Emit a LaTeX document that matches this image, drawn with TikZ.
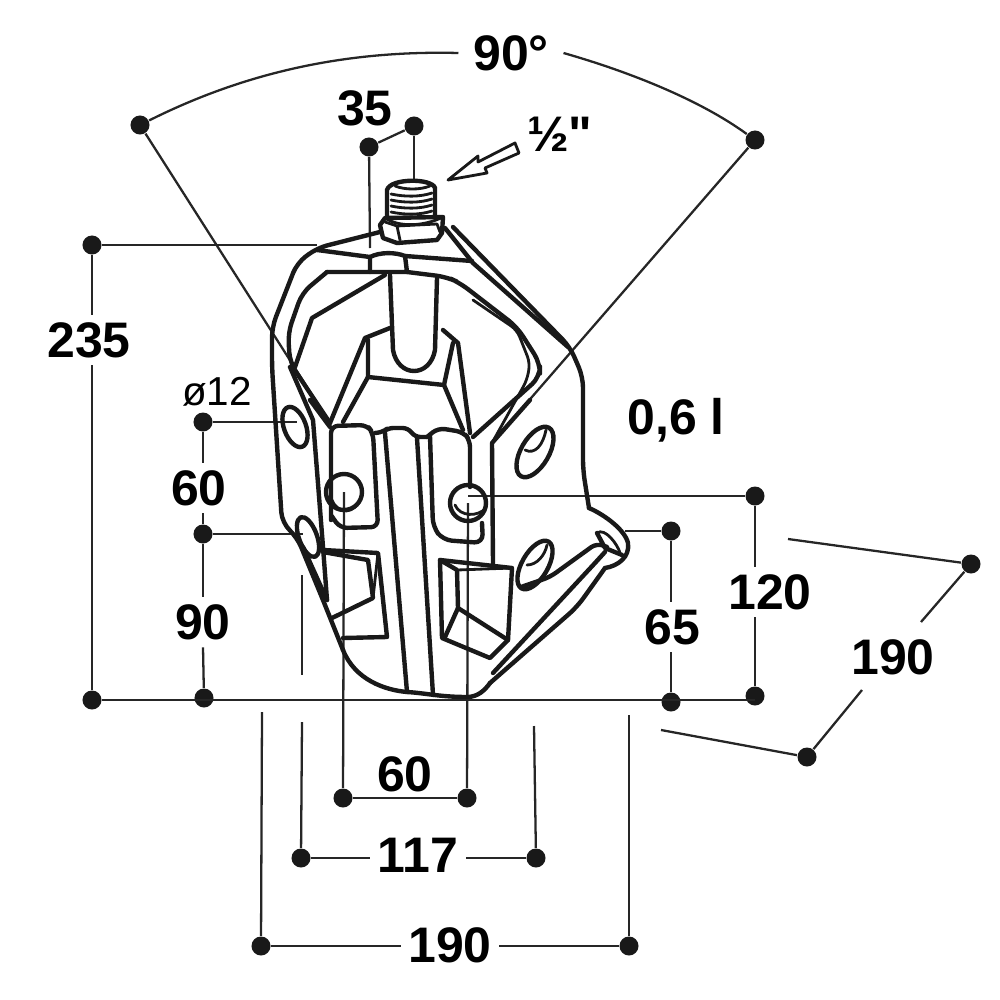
\documentclass[tikz,border=0pt]{standalone}
\usepackage{fontspec}
\setmainfont{Liberation Sans}
\tikzset{
  dot/.style={circle, fill=black!90, inner sep=0pt, minimum size=0.19cm},
  dimline/.style={black!85, line width=0.65pt},
  body/.style={black!90, line width=1.25pt, line join=round, line cap=round},
  thinbody/.style={black!90, line width=0.8pt, line join=round, line cap=round},
  biglabel/.style={font=\fontsize{14.2}{16}\selectfont\bfseries, inner sep=2pt},
  smalllabel/.style={font=\fontsize{11.5}{13}\selectfont, inner sep=1pt},
}
\begin{document}
\begin{tikzpicture}[x=0.01cm, y=-0.01cm]
  \useasboundingbox (0,0) rectangle (1000,1000);

  % labels
  \node[biglabel, inner sep=4pt] (lab90) at (511,53) {90°};
  \node[biglabel] (lab35) at (365,108) {35};
  \node[biglabel] (labthread) at (560,134) {½\XeTeXglyph\XeTeXcharglyph"0022 };
  \node[biglabel] (lab235) at (89,340) {235};
  \node[smalllabel] (labhole) at (217,392) {ø12};
  \node[biglabel] (labvol) at (676,420) {0,6 l};
  \node[biglabel] (lab60a) at (199,488) {60};
  \node[biglabel] (lab90b) at (203,622) {90};
  \node[biglabel] (lab65) at (672,627) {65};
  \node[biglabel] (lab120) at (770,592) {120};
  \node[biglabel] (lab190a) at (893,657) {190};
  \node[biglabel] (lab60b) at (405,774) {60};
  \node[biglabel] (lab117) at (418,855) {117};
  \node[biglabel] (lab190b) at (450,945) {190};

  % dots
  \node[dot] (angL) at (140,125) {};
  \node[dot] (angR) at (755,140) {};
  \node[dot] (nipL) at (369,147) {};
  \node[dot] (nipR) at (414,126) {};
  \node[dot] (topL) at (92,245) {};
  \node[dot] (baseL) at (92,700) {};
  \node[dot] (holeA) at (203,422) {};
  \node[dot] (holeB) at (203,534) {};
  \node[dot] (holeC) at (204,698) {};
  \node[dot] (flangeT) at (671,531) {};
  \node[dot] (flangeB) at (671,702) {};
  \node[dot] (boltT) at (755,496) {};
  \node[dot] (boltB) at (755,696) {};
  \node[dot] (depthT) at (971,564) {};
  \node[dot] (depthB) at (807,757) {};
  \node[dot] (boltL) at (343,798) {};
  \node[dot] (boltR) at (467,798) {};
  \node[dot] (slotL) at (301,858) {};
  \node[dot] (slotR) at (536,858) {};
  \node[dot] (wideL) at (261,946) {};
  \node[dot] (wideR) at (629,946) {};

  % free ends
  \coordinate (angLend) at (330,423);
  \coordinate (angRend) at (492,443);
  \coordinate (nipLend) at (370,248);
  \coordinate (nipRend) at (414,182);
  \coordinate (topend) at (317,245);
  \coordinate (holeAend) at (297,422);
  \coordinate (holeBend) at (303,534);
  \coordinate (flangeend) at (625,531);
  \coordinate (boltRc) at (468,496);
  \coordinate (boltLc) at (344,492);
  \coordinate (boltRd) at (468,503);
  \coordinate (baseR) at (755,700);
  \coordinate (depthTend) at (788,539);
  \coordinate (depthBend) at (661,730);
  \coordinate (depthTa) at (921,622);
  \coordinate (depthBa) at (862,690);
  \coordinate (slotLup) at (302,722);
  \coordinate (slotRup) at (534,726);
  \coordinate (wideLup) at (262,712);
  \coordinate (wideRup) at (629,715);
  \coordinate (slotA) at (302,575);
  \coordinate (slotB) at (302,675);

  % dimension lines
  \draw[dimline] (angL) .. controls (240,75) and (340,50) .. (lab90.west);
  \draw[dimline] (lab90.east) .. controls (630,72) and (700,100) .. (angR);
  \draw[dimline] (angL) -- (angLend);
  \draw[dimline] (angR) -- (angRend);
  \draw[dimline] (nipL) -- (nipR);
  \draw[dimline] (nipL) -- (nipLend);
  \draw[dimline] (nipR) -- (nipRend);
  \draw[dimline] (topL) -- (topend);
  \draw[dimline] (topL) -- (topL |- lab235.north);
  \draw[dimline] (topL |- lab235.south) -- (baseL);
  \draw[dimline] (baseL) -- (baseR);
  \draw[dimline] (holeA) -- (holeAend);
  \draw[dimline] (holeB) -- (holeBend);
  \draw[dimline] (holeA) -- (holeA |- lab60a.north);
  \draw[dimline] (holeA |- lab60a.south) -- (holeB);
  \draw[dimline] (holeB) -- (holeB |- lab90b.north);
  \draw[dimline] (holeB |- lab90b.south) -- (holeC);
  \draw[dimline] (flangeT) -- (flangeend);
  \draw[dimline] (flangeT) -- (flangeT |- lab65.north);
  \draw[dimline] (flangeT |- lab65.south) -- (flangeB);
  \draw[dimline] (boltT) -- (boltRc);
  \draw[dimline] (boltT) -- (boltT |- lab120.north);
  \draw[dimline] (boltT |- lab120.south) -- (boltB);
  \draw[dimline] (depthT) -- (depthTend);
  \draw[dimline] (depthB) -- (depthBend);
  \draw[dimline] (depthT) -- (depthTa);
  \draw[dimline] (depthBa) -- (depthB);
  \draw[dimline] (boltL) -- (boltLc);
  \draw[dimline] (boltR) -- (boltRd);
  \draw[dimline] (boltL) -- (boltR);
  \draw[dimline] (slotL) -- (slotLup);
  \draw[dimline] (slotR) -- (slotRup);
  \draw[dimline] (slotL) -- (slotL -| lab117.west);
  \draw[dimline] (slotR -| lab117.east) -- (slotR);
  \draw[dimline] (wideL) -- (wideLup);
  \draw[dimline] (wideR) -- (wideRup);
  \draw[dimline] (wideL) -- (wideL -| lab190b.west);
  \draw[dimline] (wideR -| lab190b.east) -- (wideR);
  \draw[dimline] (slotA) -- (slotB);

  % arrow to the thread
  \draw[thinbody] (448,180) -- (478,156) -- (478,162) -- (515,143) -- (519,153) -- (485,168) -- (487,173) -- cycle;

  % nipple and nut
  \draw[body] (387,217) -- (387,190) .. controls (390,178) and (432,178) .. (435,188) -- (435,215);
  \draw[thinbody] (395,186) .. controls (405,190) and (420,190) .. (430,186);
  \foreach \yy in {194,200,206,212}
    \draw[thinbody] (391,\yy) .. controls (405,\yy+3) and (420,\yy+3) .. (432,\yy-1);
  \draw[body] (380,225) -- (385,218) -- (443,217) -- (442,233) -- (437,240) -- (397,243) -- (383,238) -- cycle;
  \draw[thinbody] (385,222) -- (397,226) -- (400,240);
  \draw[thinbody] (397,226) -- (437,224) -- (440,232);
  \draw[thinbody] (385,218) .. controls (400,228) and (425,226) .. (443,217);

  % outer shell
  \draw[body, rounded corners=3pt] (380,232) -- (317,248) -- (297,263) -- (272,327) -- (272,367) -- (282,523) -- (297,537) -- (323,600) -- (343,650);
  \draw[body] (343,650) .. controls (355,680) and (385,690) .. (407,692) .. controls (425,693) and (440,697) .. (467,697) .. controls (478,697) and (485,690) .. (490,683);
  \draw[body, rounded corners=3pt] (490,683) -- (577,607) -- (605,568);
  \draw[body, rounded corners=3pt] (453,227) -- (570,347) -- (583,377) -- (583,470) -- (589,508);
  \draw[body] (445,228) -- (473,263) -- (568,347);

  % flange
  \draw[body] (589,508) .. controls (605,515) and (625,530) .. (628,543) .. controls (630,557) and (618,566) .. (605,568);
  \draw[thinbody] (597,533) .. controls (605,527) and (618,545) .. (620,553);
  \draw[body] (597,533) -- (605,548) -- (622,555);
  \draw[body, rounded corners=2pt] (521,587) -- (550,577) -- (597,543) -- (607,547);
  \draw[body] (493,673) -- (595,563) -- (605,552);

  % top bar and neck
  \draw[body] (317,250) -- (370,257) -- (370,272) -- (327,272);
  \draw[body] (370,257) .. controls (380,252) and (395,252) .. (405,256) -- (407,272) -- (370,272);
  \draw[body] (405,256) -- (472,261);
  \draw[body] (390,275) -- (393,350) .. controls (398,378) and (430,378) .. (435,350) -- (437,278);

  % left arm
  \draw[body, rounded corners=3pt] (327,272) -- (302,293) -- (288,333) -- (290,363) -- (330,423);
  \draw[body] (385,275) -- (312,318) -- (295,367);
  \draw[body] (290,367) -- (313,420) -- (323,547) -- (327,600);
  \draw[body] (310,400) -- (330,427);
  \draw[body] (303,547) -- (327,600);

  % right arm
  \draw[body, rounded corners=3pt] (407,272) -- (447,277) -- (460,283) -- (517,327) -- (540,363) -- (540,377) -- (473,437);
  \draw[thinbody, rounded corners=2pt] (473,300) -- (517,330) -- (530,363) -- (527,380) -- (492,443);
  \draw[body] (530,400) -- (492,443) -- (493,563);

  % central casting
  \draw[body] (390,328) -- (365,338) -- (330,423);
  \draw[body] (368,340) -- (368,377) -- (444,385) -- (453,343);
  \draw[body] (443,330) -- (458,343) -- (470,433);
  \draw[body] (368,377) -- (343,422);
  \draw[body] (444,385) -- (463,430);

  % blocks and rib
  \draw[body, rounded corners=2pt] (331,520) -- (331,426) -- (367,425) -- (373,433) -- (378,527) -- (340,528) -- (331,515);
  \draw[body, rounded corners=1.5pt] (375,433) -- (383,432) -- (388,428) -- (408,428) -- (415,437) -- (427,437);
  \draw[body] (385,433) -- (407,692);
  \draw[body] (417,438) -- (433,695);
  \draw[body, rounded corners=2pt] (427,437) -- (438,428) -- (463,432) -- (470,440) -- (470,487);
  \draw[body, rounded corners=2.5pt] (430,436) -- (433,527) -- (443,540) -- (483,543) -- (482,523);
  \draw[body] (344,492) circle [radius=18];
  \draw[body] (468,503) circle [radius=18];
  \draw[thinbody] (332,500) .. controls (338,515) and (355,515) .. (361,497);
  \draw[thinbody] (455,505) .. controls (460,517) and (478,517) .. (486,508);

  % windows
  \draw[body] (323,550) -- (378,553) -- (387,637) -- (343,638);
  \draw[body] (332,618) -- (373,598) -- (368,560) -- (323,552);
  \draw[thinbody] (378,553) -- (373,598);
  \draw[body] (440,560) -- (512,568) -- (508,640) -- (490,658) -- (442,638) -- cycle;
  \draw[body] (440,560) -- (457,570) -- (458,608) -- (508,640);
  \draw[body] (458,608) -- (445,637);
  \draw[thinbody] (457,570) -- (512,568);

  % holes in the shell
  \draw[body] (295,427) ellipse [x radius=11, y radius=21, rotate=20];
  \draw[body] (308,537) ellipse [x radius=9, y radius=21, rotate=20];
  \draw[body] (535,452) ellipse [x radius=14, y radius=28, rotate=-30];
  \draw[body] (535,565) ellipse [x radius=13, y radius=27, rotate=-30];
  \draw[thinbody] (525,450) .. controls (535,455) and (543,445) .. (546,430);
  \draw[thinbody] (527,565) .. controls (537,565) and (545,555) .. (547,545);
\end{tikzpicture}
\end{document}
